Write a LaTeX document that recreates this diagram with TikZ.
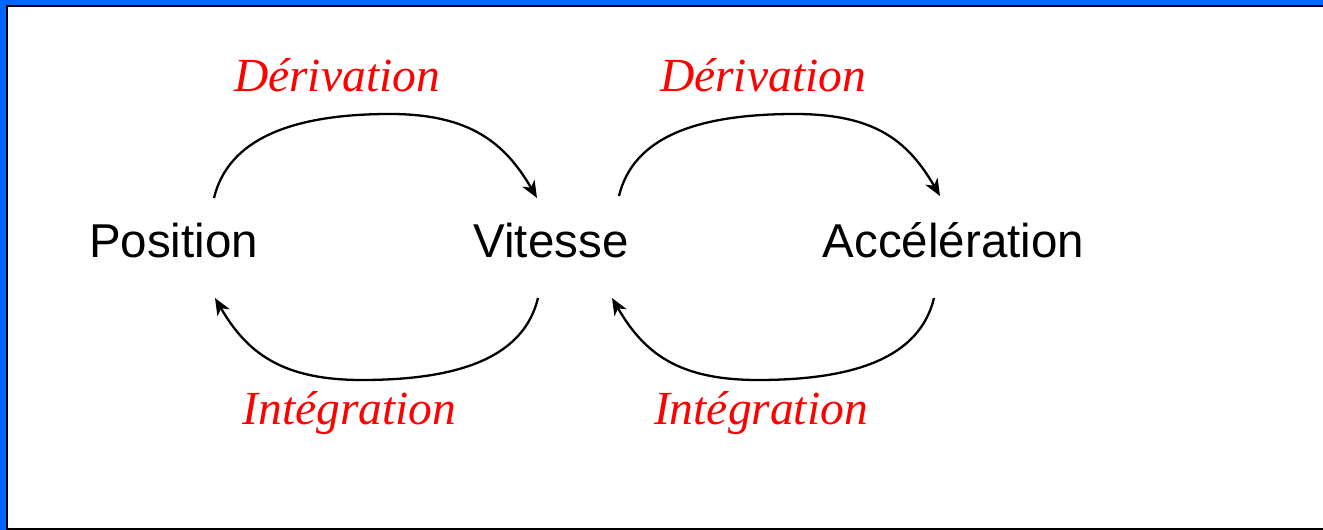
\documentclass[tikz,border=0pt]{standalone}
\usepackage{fontspec}
\setmainfont{Liberation Serif}
\setsansfont{Liberation Sans}
\usetikzlibrary{arrows.meta}

\definecolor{slideblue}{RGB}{0,102,255}

\tikzset{
  qty/.style={font=\sffamily\fontsize{47.5}{56}\selectfont, anchor=base, inner sep=0pt},
  op/.style={font=\itshape\fontsize{47.5}{56}\selectfont, text=red, anchor=base, inner sep=0pt},
  link/.style={-{Stealth[length=17pt, width=14pt, inset=5pt]}, line width=2.3pt}
}

\begin{document}
\begin{tikzpicture}[x=1pt, y=1pt]
\clip (0,0) rectangle (1323,530);
\fill[slideblue] (0,0) rectangle (1323,530);
\filldraw[fill=white, draw=black, line width=2pt] (7,1) rectangle (1340,524);

\node[qty] (position) at (173.5,272) {Position};
\node[qty] (vitesse) at (551,272) {Vitesse};
\node[qty] (accel) at (953.5,272) {Accélération};

\node[op] (der1) at (337,438) {Dérivation};
\node[op] (der2) at (763,438) {Dérivation};
\node[op] (int1) at (349.5,105) {Intégration};
\node[op] (int2) at (761,105) {Intégration};

% derivation, over the top
\draw[link] ([shift={(40.5,60)}]position.base)
  .. controls +(14,58) and +(-100,0) .. ++(176,84)
  .. controls +(80,0) and +(-32,55) .. ([shift={(-14,60)}]vitesse.base);
\draw[link] ([shift={(68,62)}]vitesse.base)
  .. controls +(14,58) and +(-100,0) .. ++(176,82)
  .. controls +(80,0) and +(-32,55) .. ([shift={(-13.5,62)}]accel.base);

% integration, underneath
\draw[link] ([shift={(-13,-40)}]vitesse.base)
  .. controls +(-14,-58) and +(100,0) .. ++(-176,-82)
  .. controls +(-80,0) and +(32,-55) .. ([shift={(41.5,-40)}]position.base);
\draw[link] ([shift={(-19.5,-40)}]accel.base)
  .. controls +(-14,-58) and +(100,0) .. ++(-176,-82)
  .. controls +(-80,0) and +(32,-55) .. ([shift={(61,-40)}]vitesse.base);

\end{tikzpicture}
\end{document}
